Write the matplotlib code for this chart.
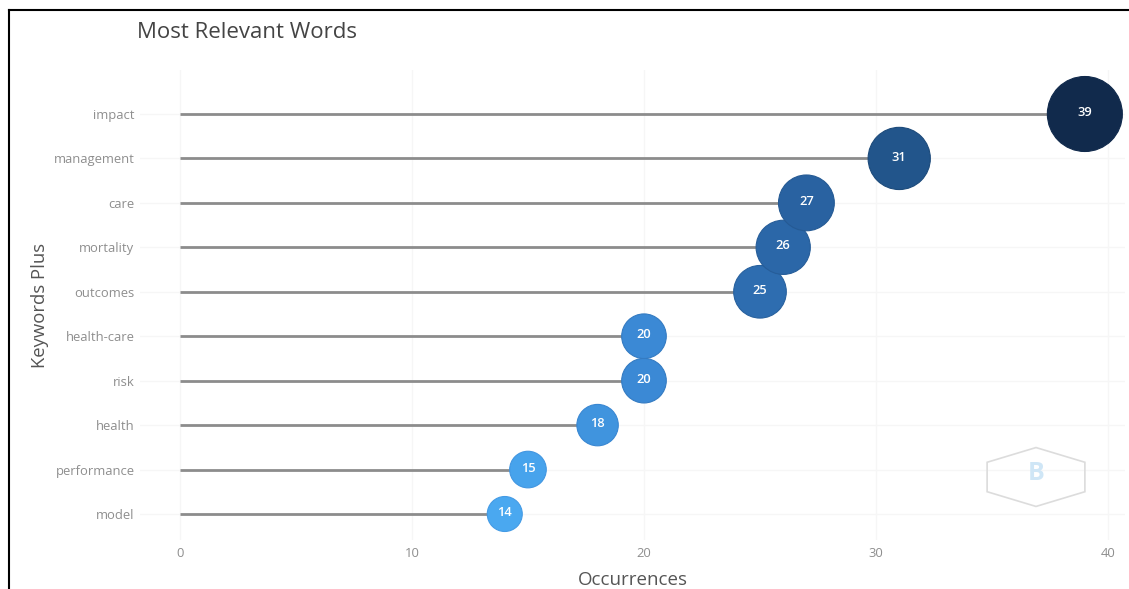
import matplotlib
matplotlib.use("Agg")
import matplotlib.pyplot as plt
from matplotlib.lines import Line2D
from matplotlib.patches import RegularPolygon
from matplotlib.colors import LinearSegmentedColormap, Normalize

plt.rcParams['font.family'] = ['Open Sans', 'DejaVu Sans']

# Keywords Plus and their occurrence counts (bottom to top)
words = ["model", "performance", "health", "risk", "health-care",
         "outcomes", "mortality", "care", "management", "impact"]
occurrences = [14, 15, 18, 20, 20, 25, 26, 27, 31, 39]
xticks = [0, 10, 20, 30, 40]

W, H, DPI = 1129, 589, 100
fig = plt.figure(figsize=(W / DPI, H / DPI), dpi=DPI)
fig.patch.set_facecolor("white")

# plot area in pixels
left, right, top, bottom = 140, 1125, 70, 540
ax = fig.add_axes([left / W, 1 - bottom / H, (right - left) / W, (bottom - top) / H])
ax.set_xlim(-1.72, 40.73)
ax.set_ylim(-0.585, 9.99)

cmap = LinearSegmentedColormap.from_list(
    "blues", ["#4aa8f0", "#3a88d4", "#2a64a4", "#1f4f82", "#112a4c"])
norm = Normalize(vmin=min(occurrences), vmax=max(occurrences))

ys = list(range(len(words)))

# faint grid
for xv in xticks:
    ax.axvline(xv, color="#f6f6f6", lw=1.0, zorder=0)
for y in ys:
    ax.axhline(y, color="#f6f6f6", lw=1.0, zorder=0)

# stems
ax.hlines(ys, 0, occurrences, color="#8c8c8c", lw=2.0, zorder=1)

# bubbles, diameter grows with count
px2pt = 72 / DPI
sizes = [((35 + 1.6 * (v - 14)) * px2pt) ** 2 for v in occurrences]
colors = [cmap(norm(v)) for v in occurrences]
edges = [cmap(min(norm(v) + 0.1, 1.0)) for v in occurrences]
ax.scatter(occurrences, ys, s=sizes, c=colors, edgecolors=edges,
           linewidths=0.8, zorder=3)
for v, y in zip(occurrences, ys):
    ax.text(v, y + 0.03, str(v), color="white", fontsize=9.3, fontweight="semibold",
            ha="center", va="center", zorder=4)

for s in ax.spines.values():
    s.set_visible(False)
ax.set_yticks(ys)
ax.set_yticklabels(words)
ax.set_xticks(xticks)
ax.tick_params(axis="both", length=0, labelsize=9.4, labelcolor="#8e8e8e")
ax.tick_params(axis="y", pad=4)
ax.tick_params(axis="x", pad=5)

ax.set_xlabel("Occurrences", fontsize=13.5, color="#555555")
ax.xaxis.set_label_coords(0.5, -(571 - bottom) / (bottom - top), transform=ax.transAxes)
ax.xaxis.label.set_va("top")
ax.set_ylabel("Keywords Plus", fontsize=13.3, color="#555555")
ax.yaxis.set_label_coords(-91 / (right - left), 0.5)

fig.text(137 / W, 1 - 33 / H, "Most Relevant Words", fontsize=16,
         color="#444444", ha="left", va="center")

# watermark logo
logo = RegularPolygon((1036 / W, 1 - 477 / H), numVertices=6, radius=0.05,
                      orientation=0, facecolor="none", edgecolor="#dcdcdc", lw=1.2)
logo.set_transform(fig.transFigure)
fig.patches.append(logo)
fig.text(1036 / W, 1 - 474 / H, "B", fontsize=18, fontweight="bold",
         color="#cfe6f6", ha="center", va="center")

# frame
fig.add_artist(Line2D([9 / W, 9 / W], [0, 1 - 10 / H], color="black", lw=1.5,
                      transform=fig.transFigure))
fig.add_artist(Line2D([9 / W, 1], [1 - 10 / H, 1 - 10 / H], color="black", lw=1.5,
                      transform=fig.transFigure))

fig.savefig("out.png", dpi=DPI)
